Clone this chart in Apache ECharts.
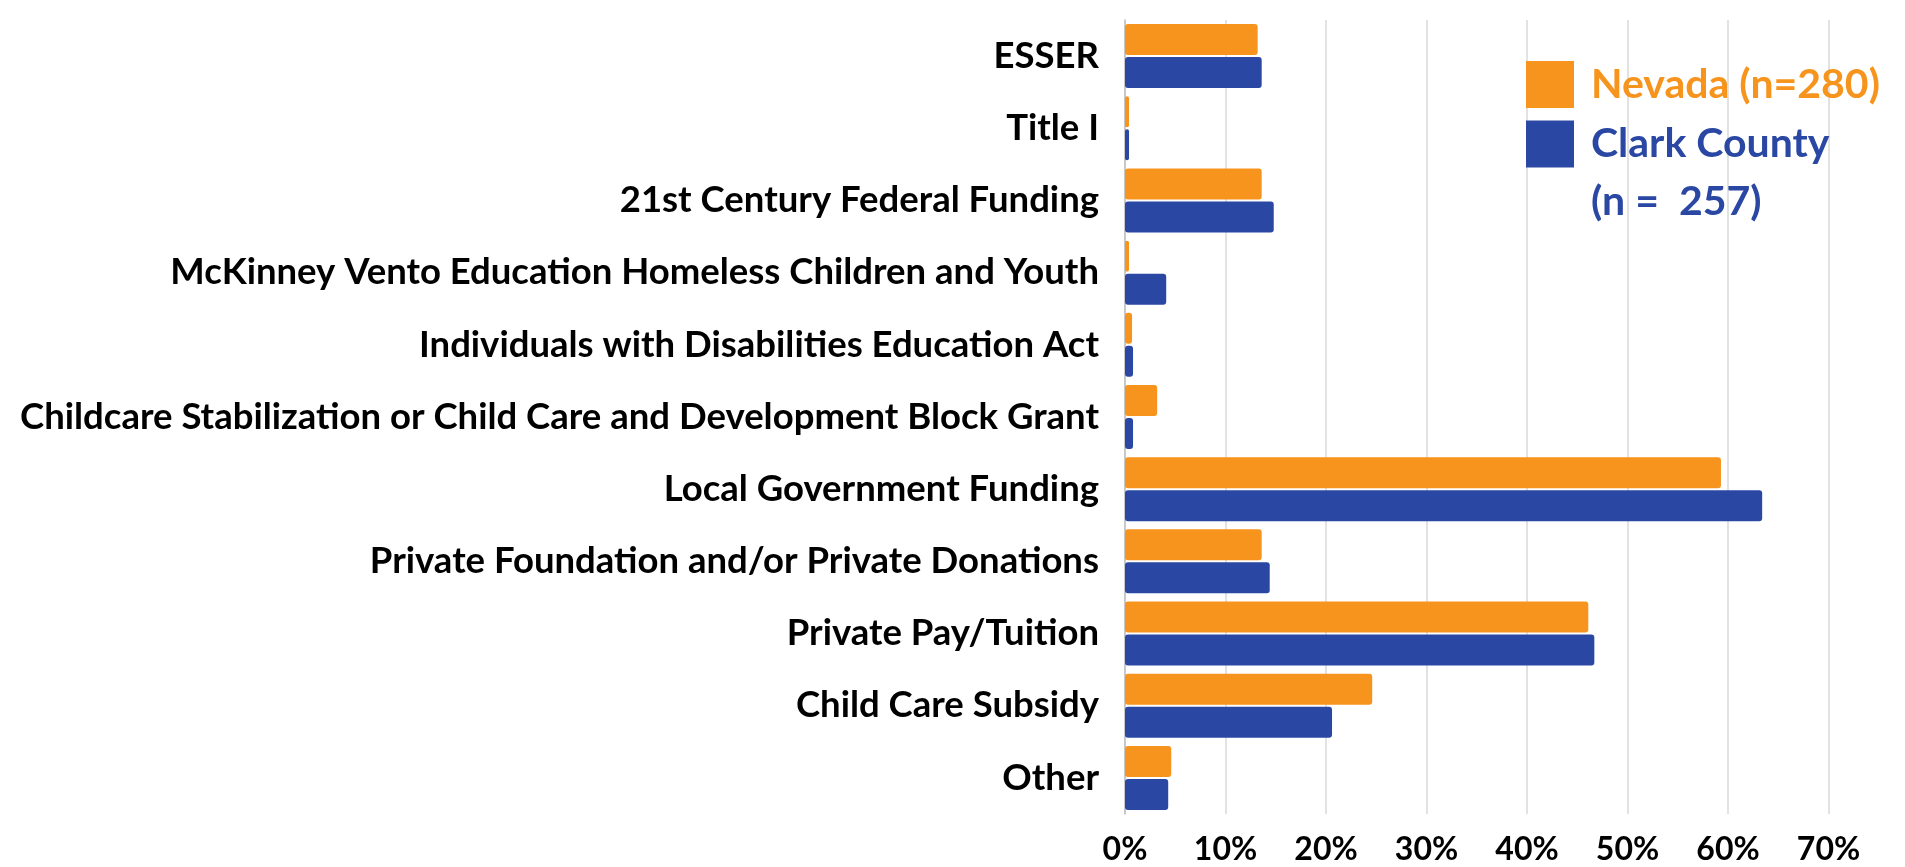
<!DOCTYPE html>
<html>
<head>
<meta charset="utf-8">
<script src="https://cdn.jsdelivr.net/npm/echarts@6/dist/echarts.min.js"></script>
<style>
    html, body { margin: 0; padding: 0; background: #fff; }
    #chart { width: 1905px; height: 867px; }
</style>
</head>
<body>
<div id="chart"></div>
<script>
// funding sources (top to bottom)
var categories = [
    'ESSER',
    'Title I',
    '21st Century Federal Funding',
    'McKinney Vento Education Homeless Children and Youth',
    'Individuals with Disabilities Education Act',
    'Childcare Stabilization or Child Care and Development Block Grant',
    'Local Government Funding',
    'Private Foundation and/or Private Donations',
    'Private Pay/Tuition',
    'Child Care Subsidy',
    'Other'
];
var seriesNames = ['Nevada (n=280)', 'Clark County (n =  257)'];
// percent of respondents
var nevadaValues = [13.2, 0.4, 13.6, 0.4, 0.7, 3.2, 59.3, 13.6, 46.1, 24.6, 4.6];
var clarkValues = [13.6, 0.4, 14.8, 4.1, 0.8, 0.8, 63.4, 14.4, 46.7, 20.6, 4.3];
var xTicks = [0, 10, 20, 30, 40, 50, 60, 70];

(function () {
    var orange = '#f7941e';
    var blue = '#2a48a3';
    var font = 'Lato, "Open Sans", sans-serif';

    //1. 实例化对象
    var myChart = echarts.init(document.getElementById('chart'));

    //2. 指定配置和数据
    var option = {
        animation: false,
        color: [orange, blue],
        grid: {
            left: 1125,
            right: 76.5,
            top: 20,
            bottom: 53,
            containLabel: false
        },
        legend: {
            orient: 'vertical',
            left: 1521,
            top: 52,
            itemWidth: 48,
            itemHeight: 47,
            itemGap: -51,
            icon: 'rect',
            data: [
                {
                    name: seriesNames[0],
                    textStyle: { color: orange, padding: [0, 0, 0, 12] }
                },
                {
                    name: seriesNames[1],
                    textStyle: { color: blue, lineHeight: 58, padding: [0, 0, 0, 12] }
                }
            ],
            // 第二项分两行，前面空一行让 "Clark County" 与色块对齐
            formatter: function (name) {
                return name === seriesNames[1] ? '\nClark County\n(n =  257)' : name;
            },
            textStyle: {
                fontFamily: font,
                fontWeight: 'bold',
                fontSize: 41
            }
        },
        xAxis: {
            type: 'value',
            min: xTicks[0],
            max: xTicks[xTicks.length - 1],
            interval: 10,
            axisLine: { show: false },
            axisTick: { show: false },
            splitLine: {
                lineStyle: { color: '#d9d9d9', width: 1.5 }
            },
            axisLabel: {
                formatter: '{value}%',
                margin: 20,
                color: '#000',
                fontFamily: font,
                fontWeight: 'bold',
                fontSize: 32
            }
        },
        yAxis: {
            type: 'category',
            inverse: true,
            data: categories,
            axisLine: {
                show: true,
                lineStyle: { color: '#bfbfbf', width: 1.5 }
            },
            axisTick: { show: false },
            axisLabel: {
                margin: 26,
                color: '#000',
                fontFamily: font,
                fontWeight: 'bold',
                fontSize: 36.5
            }
        },
        series: [
            {
                name: seriesNames[0],
                type: 'bar',
                data: nevadaValues,
                barWidth: 31,
                barGap: '6.5%',
                itemStyle: { borderRadius: 3 }
            },
            {
                name: seriesNames[1],
                type: 'bar',
                data: clarkValues,
                barWidth: 31,
                barGap: '6.5%',
                itemStyle: { borderRadius: 3 }
            }
        ]
    };

    //3. 把配置给实例对象
    myChart.setOption(option);
    //4. 图表适应屏幕
    window.addEventListener('resize', function () {
        myChart.resize();
    });
})();
</script>
</body>
</html>
